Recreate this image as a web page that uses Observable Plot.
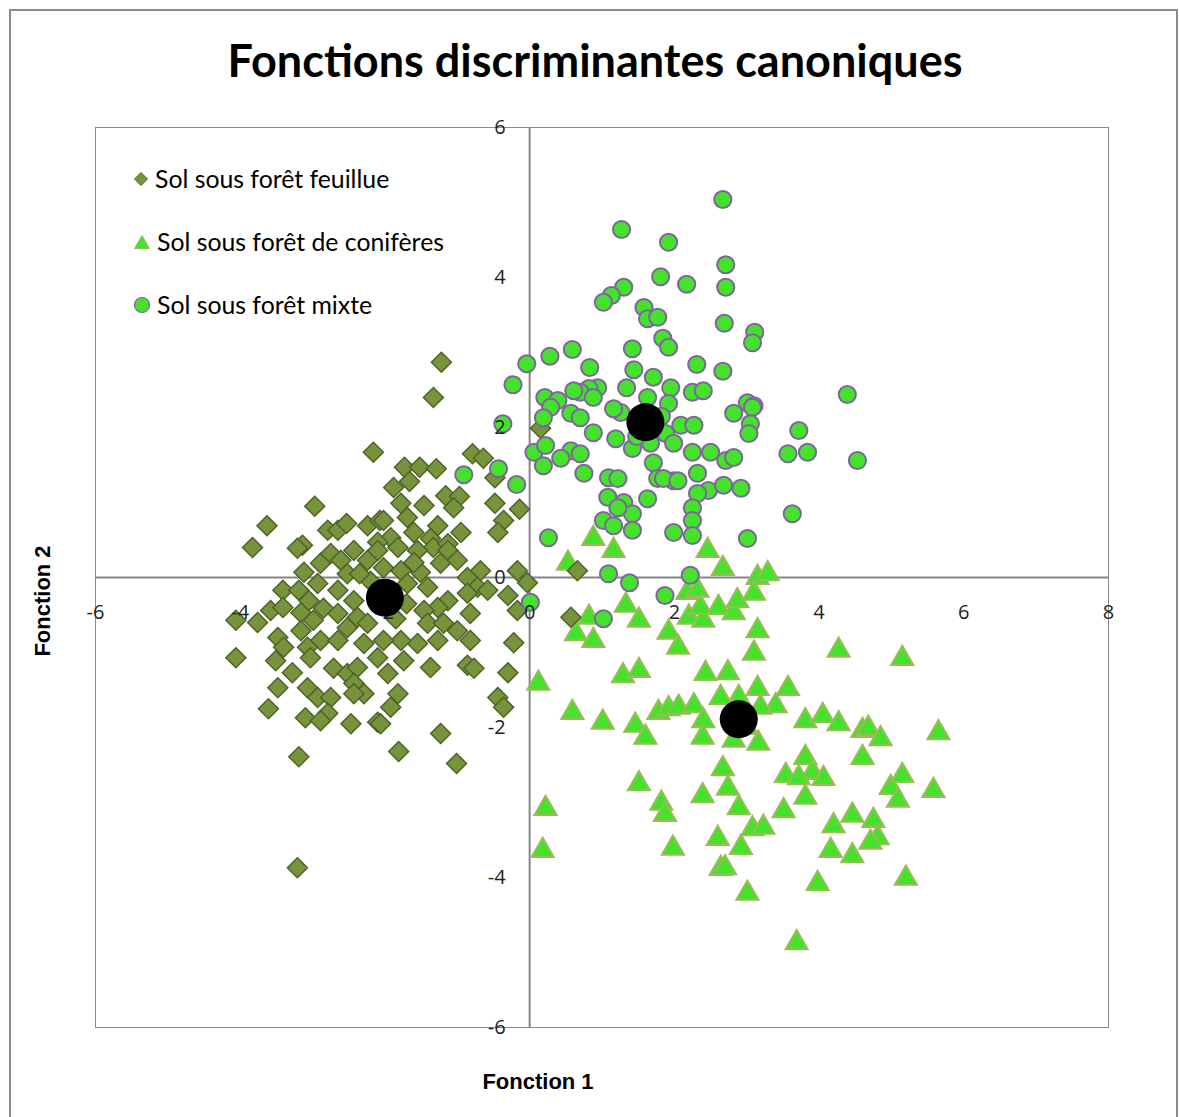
<!DOCTYPE html>
<html><head><meta charset="utf-8">
<script src="https://cdn.jsdelivr.net/npm/d3@7"></script>
<script src="https://cdn.jsdelivr.net/npm/@observablehq/plot@0.6"></script>
<style>
body{margin:0;background:#fff;}
#wrap{position:relative;width:1179px;height:1117px;overflow:hidden;background:#fff;}
#border{position:absolute;left:9px;top:9px;width:1169px;height:1200px;border:2px solid #8c8c8c;box-sizing:border-box;}
#title{position:absolute;left:0;width:1190px;top:33px;text-align:center;font-family:Lato,sans-serif;font-weight:bold;font-size:45px;color:#000;}
#chart{position:absolute;left:0;top:0;}
#legend{position:absolute;left:133px;top:162px;font-family:Lato,sans-serif;font-size:24.8px;color:#000;}
.row{position:absolute;left:0;height:33px;white-space:nowrap;display:flex;align-items:center;}
.row svg{margin-right:6px;}
#xlab{position:absolute;left:438px;width:200px;text-align:center;top:1069px;font-family:"Liberation Sans",Arial,sans-serif;font-weight:bold;font-size:22px;}
#ylab{position:absolute;left:43px;top:601px;transform:translate(-50%,-50%) rotate(-90deg);font-family:"Liberation Sans",Arial,sans-serif;font-weight:bold;font-size:22px;white-space:nowrap;}
</style></head>
<body>
<div id="wrap">
<div id="border"></div>
<div id="chart"></div>
<div id="title">Fonctions discriminantes canoniques</div>
<div id="legend"></div>
<div id="xlab">Fonction 1</div>
<div id="ylab">Fonction 2</div>
</div>
<script>
const seriesNames = ["Sol sous forêt feuillue", "Sol sous forêt de conifères", "Sol sous forêt mixte"];
const xTicks = [-6, -4, -2, 0, 2, 4, 6, 8];
const yTicks = [-6, -4, -2, 0, 2, 4, 6];

const feuillue = [
[-2.16,1.67],[-2.97,0.95],[-3.63,0.69],[-3.83,0.40],[-3.14,0.43],[-2.79,0.63],[-2.65,0.63],[-2.53,0.72],[-2.24,0.69],[-2.07,0.76],
[-1.22,2.87],[-1.33,2.40],[-0.79,1.65],[-0.64,1.59],[-1.73,1.47],[-1.52,1.47],[-1.29,1.45],[-1.66,1.28],[-1.88,1.20],[-1.78,0.99],
[-1.46,0.96],[-1.16,1.09],[-0.97,1.08],[-1.05,0.93],[-0.48,1.33],[-0.48,0.99],[-0.14,0.91],[-0.36,0.76],[-0.44,0.60],[-0.95,0.60],
[-1.69,0.80],[-2.02,0.76],[-1.60,0.60],[-1.27,0.69],[-1.37,0.52],[-1.92,0.53],[-2.10,0.47],[-1.33,0.40],[-1.13,0.45],[-3.21,0.39],
[-3.12,0.07],[-2.89,0.19],[-2.75,0.32],[-2.61,0.23],[-2.43,0.36],[-2.24,0.23],[-2.52,0.05],[-3.41,-0.17],[-3.19,-0.17],[-2.93,-0.08],
[-2.65,-0.17],[-3.05,-0.31],[-2.85,-0.41],[-4.06,-0.57],[-3.76,-0.60],[-3.58,-0.44],[-3.41,-0.40],[-3.16,-0.47],[-2.99,-0.57],[-2.65,-0.48],
[-2.43,-0.31],[-2.38,-0.53],[-3.16,-0.71],[-2.89,-0.84],[-3.07,-0.93],[-2.52,-0.67],[-2.24,-0.61],[-2.29,-0.88],[-2.65,-0.84],[-3.48,-0.80],
[-3.40,-0.93],[-4.06,-1.07],[-3.51,-1.11],[-3.03,-1.07],[-3.28,-1.27],[-2.71,-1.21],[-2.52,-1.28],[-2.38,-1.20],[-2.43,-1.41],[-2.29,-1.55],
[-2.43,-1.55],[-3.48,-1.47],[-3.07,-1.47],[-2.93,-1.60],[-2.75,-1.60],[-3.61,-1.75],[-3.10,-1.87],[-2.79,-1.81],[-2.47,-1.95],[-2.10,-1.93],
[-2.89,-1.91],[-2.10,0.36],[-1.82,0.40],[-1.55,0.36],[-1.13,0.36],[-2.02,0.13],[-1.78,0.09],[-1.51,0.07],[-1.23,0.19],[-1.00,0.23],
[-0.68,0.09],[-0.17,0.09],[-0.03,-0.07],[-1.69,-0.08],[-1.41,-0.13],[-0.86,0.00],[-0.72,-0.13],[-0.58,-0.17],[-0.30,-0.24],[-0.17,-0.44],
[-0.86,-0.21],[-0.82,-0.48],[-1.13,-0.31],[-1.27,-0.40],[-1.46,-0.44],[-1.41,-0.61],[-1.19,-0.61],[-1.00,-0.71],[-0.82,-0.84],[-1.27,-0.84],
[-1.55,-0.88],[-1.78,-0.84],[-2.02,-0.84],[-2.10,-1.07],[-1.74,-1.11],[-1.37,-1.20],[-0.86,-1.17],[-0.77,-1.21],[-0.22,-0.87],[-1.96,-1.28],
[-0.30,-1.27],[-1.82,-1.55],[-1.92,-1.73],[-0.44,-1.60],[-0.36,-1.73],[-2.06,-1.95],[-1.23,-2.08],[-3.19,-2.39],[-3.21,-3.87],[-1.81,-2.32],
[-1.01,-2.48],[0.15,1.99],[0.66,0.09],[0.57,-0.53],[-1.95,-0.20],[-1.70,-0.35],[-1.85,-0.55],[-2.20,-0.05],[-1.60,0.20],[-2.35,0.05]
];

const coniferes = [
[0.88,0.52],[1.16,0.36],[0.53,0.19],[2.46,0.36],[2.67,0.12],[3.15,0.00],[3.29,0.05],[2.18,-0.20],[2.32,-0.17],[1.33,-0.37],
[0.82,-0.53],[0.64,-0.75],[0.88,-0.84],[1.51,-0.57],[1.92,-0.73],[2.05,-0.93],[2.20,-0.53],[2.40,-0.57],[2.36,-0.40],[2.61,-0.40],
[2.82,-0.47],[2.87,-0.31],[3.10,-0.21],[3.15,-0.71],[3.10,-1.01],[0.12,-1.41],[1.29,-1.31],[1.51,-1.24],[2.43,-1.28],[2.74,-1.27],
[0.59,-1.80],[1.01,-1.93],[1.46,-1.97],[1.60,-2.13],[1.78,-1.80],[1.92,-1.75],[2.06,-1.73],[2.27,-1.71],[2.40,-1.91],[2.39,-2.13],
[2.64,-1.60],[2.89,-1.60],[3.15,-1.48],[3.57,-1.48],[3.40,-1.71],[3.19,-1.73],[3.16,-2.21],[2.82,-2.17],[4.27,-0.97],[5.15,-1.08],
[3.81,-1.91],[4.05,-1.84],[4.27,-1.95],[4.60,-2.04],[4.68,-2.01],[4.85,-2.15],[5.65,-2.07],[4.60,-2.40],[3.81,-2.40],[3.91,-2.60],
[4.06,-2.68],[3.54,-2.64],[3.72,-2.67],[2.67,-2.55],[2.74,-2.81],[2.39,-2.91],[2.89,-3.07],[3.81,-2.93],[3.51,-3.11],[4.99,-2.80],
[5.15,-2.64],[5.09,-2.97],[5.58,-2.84],[3.08,-3.35],[3.23,-3.33],[4.20,-3.31],[4.46,-3.17],[4.75,-3.24],[4.81,-3.47],[4.71,-3.53],
[2.60,-3.48],[2.92,-3.60],[4.16,-3.64],[4.46,-3.71],[2.64,-3.88],[2.70,-3.87],[3.01,-4.21],[3.98,-4.08],[5.20,-4.01],[3.69,-4.87],
[1.51,-2.75],[1.82,-3.01],[1.87,-3.16],[1.98,-3.61],[0.22,-3.08],[0.18,-3.64],[2.80,-1.80],[3.00,-2.00],[2.95,-1.95]
];

const mixte = [
[1.27,4.64],[1.92,4.47],[1.81,4.01],[2.17,3.91],[1.30,3.87],[1.13,3.76],[1.02,3.67],[1.58,3.60],[1.63,3.45],[1.77,3.47],
[1.84,3.19],[1.92,3.07],[1.42,3.05],[0.59,3.04],[0.28,2.95],[-0.04,2.85],[-0.23,2.57],[0.83,2.80],[1.44,2.77],[1.71,2.67],
[1.95,2.53],[1.34,2.53],[0.94,2.53],[0.82,2.52],[0.70,2.47],[0.61,2.49],[0.21,2.40],[0.39,2.36],[0.88,2.40],[1.63,2.40],
[2.67,5.04],[2.71,4.17],[2.71,3.87],[2.69,3.39],[3.11,3.27],[3.08,3.13],[2.31,2.84],[2.67,2.75],[4.39,2.44],[2.25,2.47],
[2.40,2.49],[3.01,2.33],[3.10,2.29],[-0.37,2.05],[-0.43,1.45],[-0.18,1.24],[0.29,2.27],[0.19,2.13],[0.57,2.19],[0.70,2.13],
[0.88,1.93],[1.19,1.85],[1.42,1.72],[1.67,1.79],[1.88,1.92],[1.99,1.79],[0.06,1.67],[0.22,1.76],[0.19,1.49],[0.57,1.69],
[0.70,1.65],[0.43,1.59],[0.75,1.39],[1.09,1.33],[1.22,1.32],[1.71,1.53],[1.77,1.32],[1.99,1.29],[1.08,1.07],[1.30,1.00],
[1.42,0.85],[1.63,1.05],[1.02,0.76],[1.16,0.69],[1.42,0.63],[1.22,0.93],[1.99,0.60],[0.26,0.53],[1.09,0.05],[1.38,-0.07],
[1.87,-0.24],[0.01,-0.33],[1.02,-0.55],[1.92,2.32],[2.82,2.19],[3.08,2.27],[3.05,2.05],[3.03,1.92],[2.09,2.03],[2.27,2.03],
[3.72,1.96],[3.57,1.65],[3.84,1.67],[4.53,1.56],[2.25,1.67],[2.50,1.67],[2.71,1.56],[2.82,1.60],[1.85,1.32],[2.05,1.29],
[2.32,1.39],[2.47,1.16],[2.68,1.23],[2.92,1.19],[2.32,1.12],[2.25,0.93],[2.25,0.76],[2.25,0.56],[3.63,0.85],[3.01,0.52],
[2.22,0.03],[-0.91,1.37],[1.26,2.20],[1.82,2.15],[1.16,2.25],[1.48,1.88]
];

const meanX = [-2.00, 1.60, 2.89];
const meanY = [-0.27, 2.07, -1.89];

const GREEN = "#45E22B";
const xy = {x: d => d[0], y: d => d[1]};

const chart = Plot.plot({
  width: 1179, height: 1117,
  marginLeft: 95, marginRight: 71, marginTop: 127, marginBottom: 90,
  x: {domain: [-6, 8], axis: null},
  y: {domain: [-6, 6], axis: null},
  style: {background: "transparent"},
  marks: [
    Plot.frame({stroke: "#8a8a8a", strokeWidth: 1}),
    Plot.ruleY([0], {stroke: "#868686", strokeWidth: 2}),
    Plot.ruleX([0], {stroke: "#868686", strokeWidth: 2}),
    Plot.dot(coniferes, {...xy, symbol: "triangle", r: 8.2, fill: GREEN, stroke: "#9BBB59", strokeWidth: 2}),
    Plot.dot(feuillue, {...xy, symbol: "diamond2", r: 9, fill: "#77933C", stroke: "#4F6228", strokeWidth: 1.5}),
    Plot.dot(mixte, {...xy, symbol: "circle", r: 8.6, fill: GREEN, stroke: "#8064A2", strokeWidth: 2}),
    Plot.text(xTicks, {x: d => d, y: 0, dy: 35, text: d => String(d), fontSize: 20, fontFamily: "Open Sans", fill: "#222"}),
    Plot.text(yTicks, {x: 0, y: d => d, dx: -24, textAnchor: "end", text: d => String(d), fontSize: 20, fontFamily: "Open Sans", fill: "#222"}),
    Plot.dot(meanX.map((x, i) => [x, meanY[i]]), {...xy, r: 19, fill: "#000", stroke: "none"})
  ]
});
document.getElementById("chart").appendChild(chart);

const markers = [
  '<svg width="16" height="16" viewBox="-8 -8 16 16"><path d="M0,-6.5L6.5,0L0,6.5L-6.5,0Z" fill="#77933C" stroke="#4F6228" stroke-width="1"/></svg>',
  '<svg width="18" height="16" viewBox="-9 -8 18 16"><path d="M0,-6.5L7.5,6.5L-7.5,6.5Z" fill="' + GREEN + '" stroke="#9BBB59" stroke-width="1"/></svg>',
  '<svg width="18" height="18" viewBox="-9 -9 18 18"><circle r="7.5" fill="' + GREEN + '" stroke="#8064A2" stroke-width="1.2"/></svg>'
];
const legend = document.getElementById("legend");
seriesNames.forEach((name, i) => {
  const row = document.createElement("div");
  row.className = "row";
  row.style.top = (i * 63) + "px";
  row.innerHTML = markers[i] + "<span>" + name + "</span>";
  legend.appendChild(row);
});
</script>
</body></html>
